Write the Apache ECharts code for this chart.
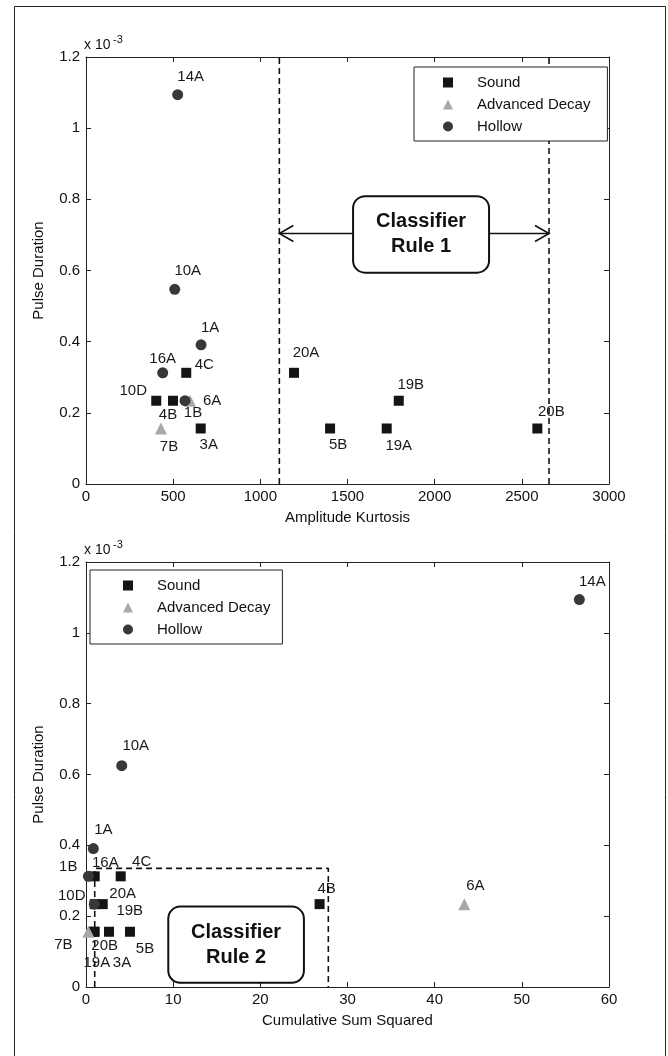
<!DOCTYPE html>
<html>
<head>
<meta charset="utf-8">
<script src="https://cdn.jsdelivr.net/npm/echarts@6/dist/echarts.min.js"></script>
<style>
html,body{margin:0;padding:0;background:#fff;}
#c{width:668px;height:1056px;}
</style>
</head>
<body>
<div id="c"></div>
<script>
// ---------- DATA ----------
const seriesNames = ['Sound', 'Advanced Decay', 'Hollow'];

// Top chart: Amplitude Kurtosis vs Pulse Duration (x 10^-3)
const topSoundNames = ['4C', '10D', '4B', '3A', '20A', '19B', '5B', '19A', '20B'];
const topSoundX = [575, 403, 499, 658, 1193, 1794, 1400, 1725, 2589];
const topSoundY = [0.3125, 0.234, 0.234, 0.156, 0.3125, 0.234, 0.156, 0.156, 0.156];
const topDecayNames = ['6A', '7B'];
const topDecayX = [597, 430];
const topDecayY = [0.234, 0.156];
const topHollowNames = ['14A', '10A', '1A', '16A', '1B'];
const topHollowX = [526, 509, 660, 440, 568];
const topHollowY = [1.094, 0.547, 0.391, 0.3125, 0.234];
const rule1X = [1109, 2656];

// Bottom chart: Cumulative Sum Squared vs Pulse Duration (x 10^-3)
const botSoundNames = ['4C', '20A', '10D', '19B', '4B', '19A', '20B', '3A', '5B'];
const botSoundX = [3.98, 1.0, 1.0, 1.92, 26.8, 0.9, 1.0, 2.64, 5.05];
const botSoundY = [0.3125, 0.3125, 0.234, 0.234, 0.234, 0.156, 0.156, 0.156, 0.156];
const botDecayNames = ['6A', '7B'];
const botDecayX = [43.4, 0.27];
const botDecayY = [0.234, 0.156];
const botHollowNames = ['14A', '10A', '1A', '16A', '1B'];
const botHollowX = [56.6, 4.1, 0.84, 0.27, 0.95];
const botHollowY = [1.094, 0.625, 0.391, 0.3125, 0.234];
const rule2Rect = { x0: 1.0, x1: 27.8, y1: 0.335 };

const yTicks = [0, 0.2, 0.4, 0.6, 0.8, 1, 1.2];
const topXTicks = [0, 500, 1000, 1500, 2000, 2500, 3000];
const botXTicks = [0, 10, 20, 30, 40, 50, 60];

// ---------- STYLE (label placement offsets in px) ----------
const topLabelOffsets = {
  '14A': [13, -18], '10A': [13, -18], '1A': [9, -17], '16A': [0, -14], '1B': [8, 12],
  '4C': [18, -8], '10D': [-23, -10], '4B': [-5, 14], '3A': [8, 16], '20A': [12, -20],
  '19B': [12, -16], '5B': [8, 16], '19A': [12, 17], '20B': [14, -17],
  '6A': [22, 0], '7B': [8, 18]
};
const botLabelOffsets = {
  '14A': [13, -18], '10A': [14, -20], '1A': [10, -19], '16A': [17, -13], '1B': [-26, -37],
  '4C': [21, -14], '20A': [28, 18], '10D': [-23, -8], '19B': [27, 7], '4B': [7, -15],
  '19A': [3, 31], '20B': [10, 14], '3A': [13, 31], '5B': [15, 17],
  '6A': [11, -18], '7B': [-25, 13]
};
const FONT = "'Liberation Sans', Arial, sans-serif";
const colors = { 'Sound': '#141414', 'Advanced Decay': '#a8a8a8', 'Hollow': '#383838' };
const symbols = { 'Sound': 'rect', 'Advanced Decay': 'triangle', 'Hollow': 'circle' };
const sizes = { 'Sound': 10, 'Advanced Decay': 12, 'Hollow': 11 };

function pts(names, xs, ys, offsets) {
  return names.map((n, i) => ({
    name: n, value: [xs[i], ys[i]],
    label: { offset: offsets[n] || [0, 0] }
  }));
}

function scatter(name, gi, data) {
  return {
    type: 'scatter', name: name, xAxisIndex: gi, yAxisIndex: gi, z: 5,
    symbol: symbols[name], symbolSize: sizes[name],
    itemStyle: { color: colors[name], opacity: 1 },
    label: { show: true, position: 'inside', formatter: '{b}', color: '#1a1a1a',
             fontSize: 15, fontFamily: FONT },
    emphasis: { disabled: true },
    data: data
  };
}

function dashed(gi, data) {
  return {
    type: 'line', xAxisIndex: gi, yAxisIndex: gi, symbol: 'none', z: 2, silent: true,
    lineStyle: { color: '#111', width: 1.6, type: [6, 4] },
    data: data
  };
}

function mainX(gi, min, max, interval, name) {
  return {
    type: 'value', gridIndex: gi, min: min, max: max, interval: interval, position: 'bottom',
    name: name, nameLocation: 'middle', nameGap: 26,
    nameTextStyle: { fontSize: 15, color: '#111', fontFamily: FONT },
    axisLine: { show: true, onZero: false, lineStyle: { color: '#222', width: 1 } },
    axisTick: { show: true, inside: true, length: 5, lineStyle: { color: '#222' } },
    axisLabel: { fontSize: 15, color: '#111', margin: 5, fontFamily: FONT,
                 formatter: v => String(v) },
    splitLine: { show: false }
  };
}
function mirrorX(gi, min, max, interval) {
  return {
    type: 'value', gridIndex: gi, min: min, max: max, interval: interval, position: 'top',
    axisLine: { show: true, onZero: false, lineStyle: { color: '#222', width: 1 } },
    axisTick: { show: true, inside: true, length: 5, lineStyle: { color: '#222' } },
    axisLabel: { show: false }, splitLine: { show: false }
  };
}
function mainY(gi) {
  return {
    type: 'value', gridIndex: gi, min: yTicks[0], max: yTicks[yTicks.length - 1], interval: 0.2,
    position: 'left', name: 'Pulse Duration', nameLocation: 'middle', nameGap: 40,
    nameTextStyle: { fontSize: 15, color: '#111', fontFamily: FONT },
    axisLine: { show: true, onZero: false, lineStyle: { color: '#222', width: 1 } },
    axisTick: { show: true, inside: true, length: 5, lineStyle: { color: '#222' } },
    axisLabel: { fontSize: 15, color: '#111', margin: 6, fontFamily: FONT,
                 formatter: v => String(+v.toFixed(1)) },
    splitLine: { show: false }
  };
}
function mirrorY(gi) {
  return {
    type: 'value', gridIndex: gi, min: yTicks[0], max: yTicks[yTicks.length - 1], interval: 0.2,
    position: 'right',
    axisLine: { show: true, onZero: false, lineStyle: { color: '#222', width: 1 } },
    axisTick: { show: true, inside: true, length: 5, lineStyle: { color: '#222' } },
    axisLabel: { show: false }, splitLine: { show: false }
  };
}

function legendCfg(left, top, padding) {
  return {
    data: [{ name: 'Sound', icon: 'rect' }, { name: 'Advanced Decay', icon: 'triangle' },
           { name: 'Hollow', icon: 'circle' }],
    orient: 'vertical', left: left, top: top, z: 10,
    backgroundColor: '#fff', borderColor: '#222', borderWidth: 1, borderRadius: 0,
    padding: padding, itemWidth: 10, itemHeight: 10, itemGap: 7,
    selectedMode: false,
    textStyle: { fontSize: 15, color: '#111', fontFamily: FONT, padding: [0, 0, 0, 19] }
  };
}

const option = {
  backgroundColor: '#fff',
  animation: false,
  textStyle: { fontFamily: FONT },
  grid: [
    { left: 86, top: 57, width: 523, height: 427 },
    { left: 86, top: 562, width: 523, height: 425 }
  ],
  xAxis: [
    mainX(0, topXTicks[0], topXTicks[topXTicks.length - 1], 500, 'Amplitude Kurtosis'),
    mainX(1, botXTicks[0], botXTicks[botXTicks.length - 1], 10, 'Cumulative Sum Squared'),
    mirrorX(0, topXTicks[0], topXTicks[topXTicks.length - 1], 500),
    mirrorX(1, botXTicks[0], botXTicks[botXTicks.length - 1], 10)
  ],
  yAxis: [mainY(0), mainY(1), mirrorY(0), mirrorY(1)],
  legend: [
    legendCfg(414, 67, [8, 17, 7, 29]),
    legendCfg(90, 570, [8, 12, 7, 33])
  ],
  series: [
    dashed(0, [[rule1X[0], yTicks[0]], [rule1X[0], yTicks[yTicks.length - 1]]]),
    dashed(0, [[rule1X[1], yTicks[0]], [rule1X[1], yTicks[yTicks.length - 1]]]),
    dashed(1, [[rule2Rect.x0, 0], [rule2Rect.x0, rule2Rect.y1], [rule2Rect.x1, rule2Rect.y1], [rule2Rect.x1, 0]]),
    scatter('Sound', 0, pts(topSoundNames, topSoundX, topSoundY, topLabelOffsets)),
    scatter('Advanced Decay', 0, pts(topDecayNames, topDecayX, topDecayY, topLabelOffsets)),
    scatter('Hollow', 0, pts(topHollowNames, topHollowX, topHollowY, topLabelOffsets)),
    scatter('Sound', 1, pts(botSoundNames, botSoundX, botSoundY, botLabelOffsets)),
    scatter('Advanced Decay', 1, pts(botDecayNames, botDecayX, botDecayY, botLabelOffsets)),
    scatter('Hollow', 1, pts(botHollowNames, botHollowX, botHollowY, botLabelOffsets))
  ]
};

const chart = echarts.init(document.getElementById('c'), null, { renderer: 'canvas' });
chart.setOption(option);

// ---------- Annotations positioned through the axes ----------
function toPx(gi, p) { return chart.convertToPixel({ xAxisIndex: gi, yAxisIndex: gi }, p); }

function ruleBox(gi, x0, y0, x1, y1, text) {
  const a = toPx(gi, [x0, y0]), b = toPx(gi, [x1, y1]);
  return [
    { type: 'rect', z: 20, shape: { x: a[0], y: a[1], width: b[0] - a[0], height: b[1] - a[1], r: 12 },
      style: { fill: '#fff', stroke: '#111', lineWidth: 2 } },
    { type: 'text', z: 21, x: (a[0] + b[0]) / 2, y: (a[1] + b[1]) / 2,
      style: { text: text, fill: '#111', font: "bold 20px " + FONT, align: 'center',
               verticalAlign: 'middle', lineHeight: 25 } }
  ];
}

const arrowY = 0.704;
const box1 = { x0: 1532, y0: 0.809, x1: 2312, y1: 0.594 };
const box2 = { x0: 9.44, y0: 0.227, x1: 25.0, y1: 0.012 };
const pL = toPx(0, [rule1X[0], arrowY]), pR = toPx(0, [rule1X[1], arrowY]);
const bL = toPx(0, [box1.x0, arrowY]), bR = toPx(0, [box1.x1, arrowY]);
const origin0 = toPx(0, [0, yTicks[yTicks.length - 1]]);
const origin1 = toPx(1, [0, yTicks[yTicks.length - 1]]);

const lineStyle = { stroke: '#111', lineWidth: 1.6, fill: null };
const graphics = [
  { type: 'line', z: 15, shape: { x1: pL[0], y1: pL[1], x2: bL[0], y2: bL[1] }, style: lineStyle },
  { type: 'line', z: 15, shape: { x1: bR[0], y1: bR[1], x2: pR[0], y2: pR[1] }, style: lineStyle },
  { type: 'polyline', z: 15, shape: { points: [[pL[0] + 14, pL[1] - 8], [pL[0], pL[1]], [pL[0] + 14, pL[1] + 8]] }, style: lineStyle },
  { type: 'polyline', z: 15, shape: { points: [[pR[0] - 14, pR[1] - 8], [pR[0], pR[1]], [pR[0] - 14, pR[1] + 8]] }, style: lineStyle }
]
  .concat(ruleBox(0, box1.x0, box1.y0, box1.x1, box1.y1, 'Classifier\nRule 1'))
  .concat(ruleBox(1, box2.x0, box2.y0, box2.x1, box2.y1, 'Classifier\nRule 2'));

[origin0, origin1].forEach(o => {
  graphics.push({ type: 'text', z: 20, x: o[0] - 2, y: o[1] - 5,
    style: { text: 'x 10', fill: '#111', font: '14px ' + FONT, verticalAlign: 'bottom' } });
  graphics.push({ type: 'text', z: 20, x: o[0] + 27, y: o[1] - 12,
    style: { text: '-3', fill: '#111', font: '11px ' + FONT, verticalAlign: 'bottom' } });
});

// outer frame
graphics.push({ type: 'rect', z: 1, silent: true,
  shape: { x: 14.5, y: 6.5, width: 651, height: 1060 },
  style: { fill: null, stroke: '#222', lineWidth: 1 } });

chart.setOption({ graphic: graphics });
</script>
</body>
</html>
